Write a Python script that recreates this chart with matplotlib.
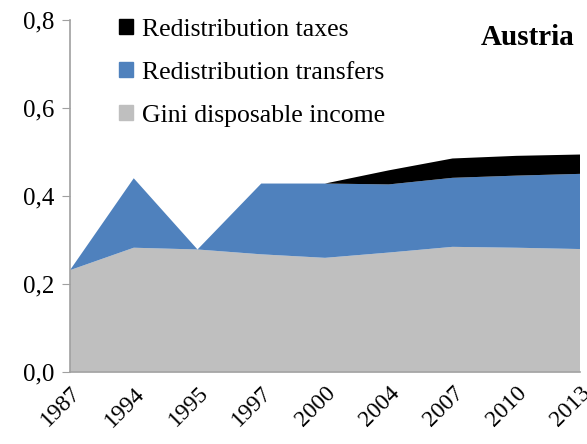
import matplotlib
matplotlib.use("Agg")
import matplotlib.pyplot as plt
from matplotlib.patches import Patch
from matplotlib.ticker import FuncFormatter

years = ["1987", "1994", "1995", "1997", "2000", "2004", "2007", "2010", "2013"]
gini_disp = [0.231, 0.282, 0.278, 0.267, 0.259, 0.271, 0.284, 0.282, 0.279]
transfers = [0.0, 0.158, 0.0, 0.161, 0.169, 0.155, 0.157, 0.164, 0.171]
taxes = [0.0, 0.0, 0.0, 0.0, 0.0, 0.032, 0.044, 0.045, 0.044]
labels = ["Gini disposable income", "Redistribution transfers", "Redistribution taxes"]
colors = ["#bfbfbf", "#4f81bd", "#000000"]

plt.rcParams['font.family'] = ['Liberation Serif', 'DejaVu Serif']

fig = plt.figure(figsize=(5.87, 4.44), dpi=100)
ax = fig.add_axes([70/587, 1-371.7/444, 510/587, (371.7-20)/444])

x = list(range(len(years)))
ax.stackplot(x, gini_disp, transfers, taxes, colors=colors, linewidth=0)

ax.set_xlim(0, len(years)-1)
ax.set_ylim(0, 0.8)
ax.set_yticks([0, 0.2, 0.4, 0.6, 0.8])
ax.yaxis.set_major_formatter(FuncFormatter(lambda v, p: f"{v:.1f}".replace(".", ",")))
ax.set_xticks(x)
ax.set_xticklabels(years, rotation=45, ha="right", rotation_mode="anchor")
ax.tick_params(axis="x", length=0, labelsize=17, pad=8)
ax.tick_params(axis="y", length=6, color="#a0a0a0", labelsize=18, pad=5)
for s in ["top", "right"]:
    ax.spines[s].set_visible(False)
for s in ["left", "bottom"]:
    ax.spines[s].set_color("#a0a0a0")
    ax.spines[s].set_linewidth(1.2)

handles = [Patch(color=colors[2]), Patch(color=colors[1]), Patch(color=colors[0])]
leg = ax.legend(handles, labels[::-1], loc="upper left", bbox_to_anchor=(0.075, 1.033),
                frameon=False, fontsize=18.5, handlelength=0.55, handleheight=0.55,
                handletextpad=0.35, labelspacing=0.82, borderaxespad=0)
ax.text(0.99, 0.99, "Austria", transform=ax.transAxes, ha="right", va="top",
        fontsize=21, fontweight="bold")

fig.savefig("out.png", dpi=100)
